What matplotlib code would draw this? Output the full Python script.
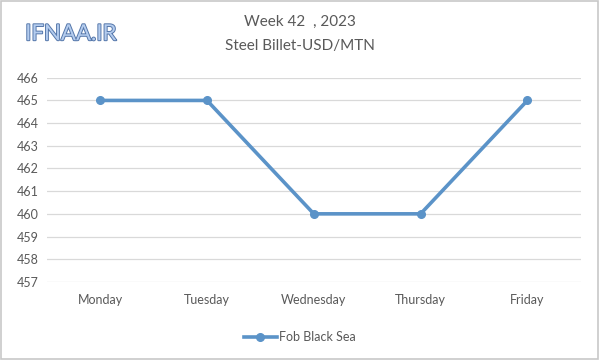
import matplotlib
matplotlib.use("Agg")
import matplotlib.pyplot as plt
from matplotlib.patches import Rectangle
import matplotlib.patheffects as pe

plt.rcParams['font.family'] = ['Lato', 'DejaVu Sans']

days = ['Monday', 'Tuesday', 'Wednesday', 'Thursday', 'Friday']
prices = [465, 465, 460, 460, 465]
series_name = 'Fob Black Sea'
yticks = [457, 458, 459, 460, 461, 462, 463, 464, 465, 466]

line_color = '#5B93C8'
text_color = '#595959'

fig = plt.figure(figsize=(6, 3.6), dpi=100)
ax = fig.add_axes([0.078, 0.217, 0.89, 0.567])

x = list(range(len(days)))
ax.plot(x, prices, color=line_color, linewidth=2.6, marker='o', markersize=5.5,
        label=series_name)

ax.set_xlim(-0.5, len(days) - 0.5)
ax.set_ylim(457, 466)
ax.set_yticks(yticks)
ax.set_xticks(x)
ax.set_xticklabels(days)
ax.grid(axis='y', color='#D9D9D9', linewidth=0.9)
ax.set_axisbelow(True)
for s in ax.spines.values():
    s.set_visible(False)
ax.tick_params(length=0, colors=text_color, labelsize=9)
ax.tick_params(axis='x', pad=9)
ax.tick_params(axis='y', pad=6)

fig.text(0.5, 0.94, 'Week 42  , 2023', ha='center', va='center',
         fontsize=11, color=text_color)
fig.text(0.5, 0.873, 'Steel Billet-USD/MTN', ha='center', va='center',
         fontsize=11, color=text_color)

fig.text(0.042, 0.905, 'IFNAA.IR', ha='left', va='center', fontsize=16,
         color='#B4CCEE',
         path_effects=[pe.withStroke(linewidth=1.4, foreground='#5577AA')])

leg = fig.legend(loc='center', bbox_to_anchor=(0.5, 0.063), frameon=False,
                 fontsize=9, handlelength=2.6, handletextpad=0.2,
                 labelcolor=text_color)

fig.patches.append(Rectangle((0.002, 0.003), 0.995, 0.993, transform=fig.transFigure,
                             fill=False, edgecolor='#C8C8C8', linewidth=1.2))

fig.savefig('out.png', dpi=100)
